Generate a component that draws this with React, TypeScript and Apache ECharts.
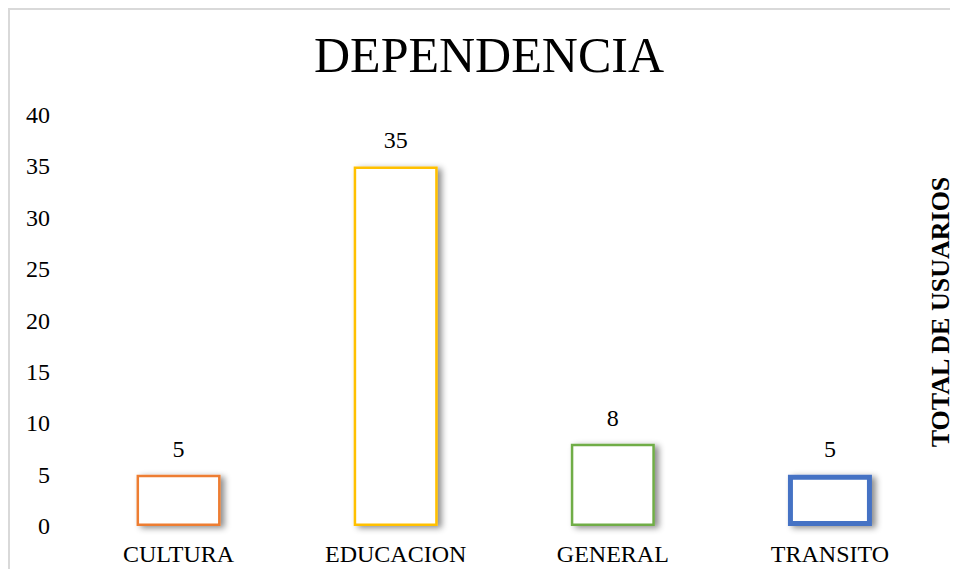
import React, { useEffect, useRef } from "react";
import * as echarts from "echarts";

const categories = ["CULTURA", "EDUCACION", "GENERAL", "TRANSITO"];
const values = [5, 35, 8, 5];
const borderColors = ["#ED7D31", "#FFC000", "#70AD47", "#4472C4"];
const borderWidths = [2.5, 2.5, 2.5, 5];
const yTicks = { min: 0, max: 40, interval: 5 };

const FONT = "'Times New Roman', 'Liberation Serif', serif";

export default function App() {
  const ref = useRef<HTMLDivElement>(null);
  useEffect(() => {
    if (!ref.current) return;
    document.body.style.overflow = "hidden";
    const chart = echarts.init(ref.current, undefined, { renderer: "svg" });
    chart.setOption({
      animation: false,
      backgroundColor: "#fff",
      title: {
        text: "DEPENDENCIA",
        left: 474,
        textAlign: "center",
        top: 15,
        textStyle: { fontFamily: FONT, fontSize: 50, fontWeight: "normal", color: "#000" },
      },
      grid: { left: 60, right: 19.5, top: 105, bottom: 43 },
      xAxis: {
        type: "category",
        data: categories,
        axisLine: { show: false },
        axisTick: { show: false },
        axisLabel: { fontFamily: FONT, fontSize: 24, color: "#000", margin: 16 },
      },
      yAxis: {
        type: "value",
        min: yTicks.min,
        max: yTicks.max,
        interval: yTicks.interval,
        splitLine: { show: false },
        axisLine: { show: false },
        axisTick: { show: false },
        axisLabel: { fontFamily: FONT, fontSize: 24, color: "#000", margin: 20 },
      },
      graphic: [
        {
          type: "text",
          x: 930,
          y: 302,
          rotation: Math.PI / 2,
          style: {
            text: "TOTAL DE USUARIOS",
            fontFamily: FONT,
            fontSize: 26,
            fontWeight: "bold",
            fill: "#000",
            align: "center",
            verticalAlign: "middle",
          },
        },
      ],
      series: [
        {
          type: "bar",
          barWidth: 84,
          data: values.map((v, i) => ({
            value: v,
            itemStyle: {
              color: "#fff",
              borderColor: borderColors[i],
              borderWidth: borderWidths[i],
              shadowColor: "rgba(0,0,0,0.45)",
              shadowBlur: 6,
              shadowOffsetX: 4,
              shadowOffsetY: 2,
            },
          })),
          label: {
            show: true,
            position: "top",
            distance: 14,
            fontFamily: FONT,
            fontSize: 24,
            color: "#000",
          },
        },
      ],
    });
    return () => chart.dispose();
  }, []);
  return (
    <div
      ref={ref}
      style={{
        width: 948,
        height: 559,
        borderLeft: "2px solid #d9d9d9",
        borderTop: "2px solid #d9d9d9",
        boxSizing: "content-box",
      }}
    />
  );
}
